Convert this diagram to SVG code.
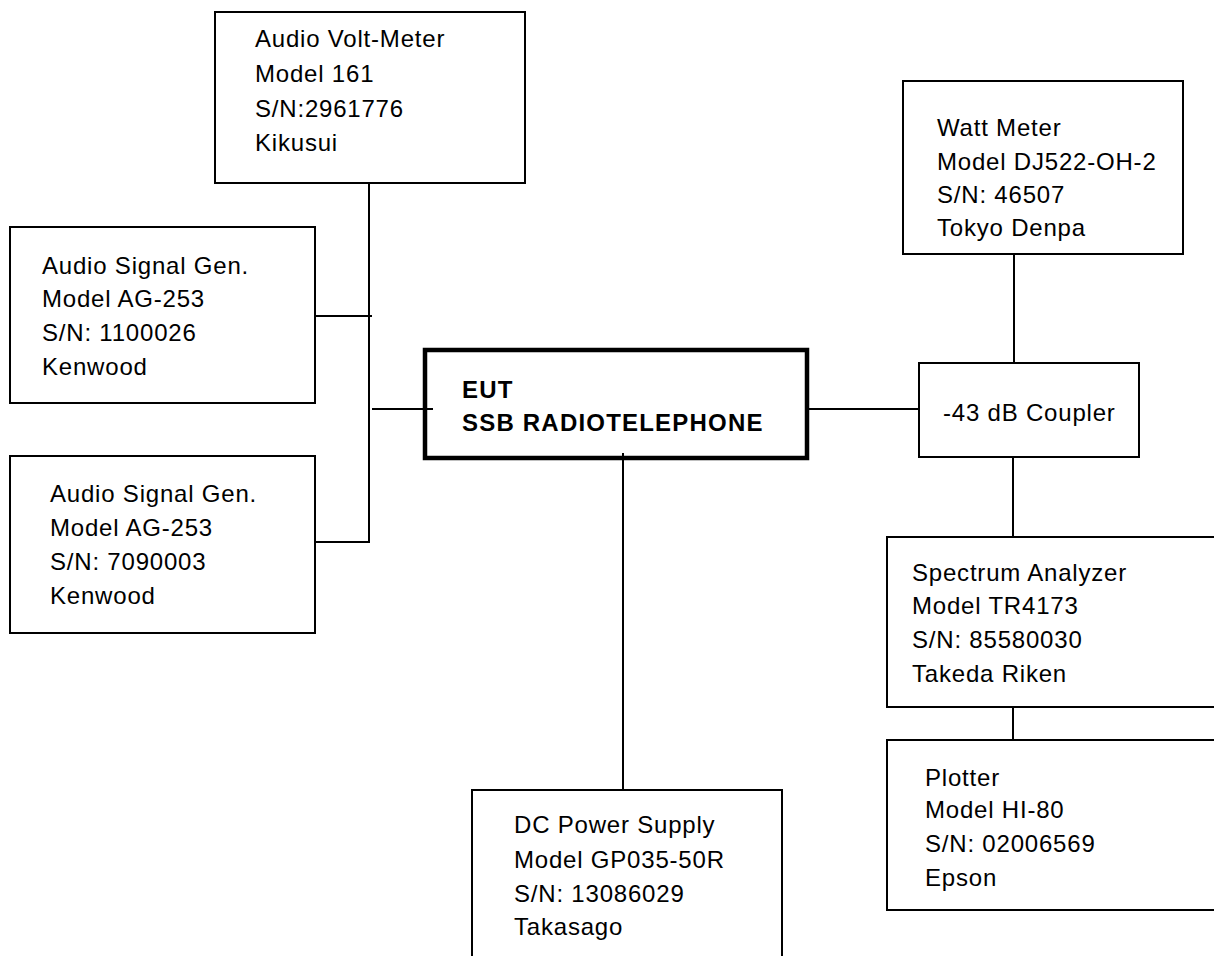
<svg xmlns="http://www.w3.org/2000/svg" width="1214" height="956" viewBox="0 0 1214 956">
<style>
.box{fill:#fff;stroke:#000;stroke-width:2}
.eut{fill:#fff;stroke:#000;stroke-width:4.5}
.t{font-family:"Liberation Sans",Arial,sans-serif;font-size:24px;letter-spacing:0.8px;fill:#000}
.b{font-family:"Liberation Sans",Arial,sans-serif;font-size:24px;font-weight:bold;letter-spacing:1.2px;fill:#000}
.ln{stroke:#000;stroke-width:2;fill:none}
</style>
<rect width="1214" height="956" fill="#fff"/>
<g id="connectors">
<line class="ln" x1="369" y1="183" x2="369" y2="543"/>
<line class="ln" x1="308" y1="316" x2="372" y2="316"/>
<polyline class="ln" points="315,542 369,542"/>
<line class="ln" x1="372" y1="409" x2="433" y2="409"/>
<line class="ln" x1="807" y1="409" x2="919" y2="409"/>
<line class="ln" x1="1014" y1="254" x2="1014" y2="363"/>
<line class="ln" x1="1013" y1="457" x2="1013" y2="537"/>
<line class="ln" x1="1013" y1="707" x2="1013" y2="740"/>
<line class="ln" x1="623" y1="453" x2="623" y2="790"/>
</g>
<g id="voltmeter">
<rect class="box" x="215" y="12" width="310" height="171"/>
<text class="t" x="255" y="47">Audio Volt-Meter</text>
<text class="t" x="255" y="82">Model 161</text>
<text class="t" x="255" y="117">S/N:2961776</text>
<text class="t" x="255" y="151">Kikusui</text>
</g>
<g id="siggen1">
<rect class="box" x="10" y="227" width="305" height="176"/>
<text class="t" x="42" y="274">Audio Signal Gen.</text>
<text class="t" x="42" y="307">Model AG-253</text>
<text class="t" x="42" y="341">S/N: 1100026</text>
<text class="t" x="42" y="375">Kenwood</text>
</g>
<g id="siggen2">
<rect class="box" x="10" y="456" width="305" height="177"/>
<text class="t" x="50" y="502">Audio Signal Gen.</text>
<text class="t" x="50" y="536">Model AG-253</text>
<text class="t" x="50" y="570">S/N: 7090003</text>
<text class="t" x="50" y="604">Kenwood</text>
</g>
<g id="eut">
<rect class="eut" x="425" y="350" width="382" height="108"/>
<line class="ln" x1="425" y1="409" x2="433" y2="409"/>
<line class="ln" x1="623" y1="453" x2="623" y2="458"/>
<text class="b" x="462" y="398">EUT</text>
<text class="b" x="462" y="431">SSB RADIOTELEPHONE</text>
</g>
<g id="wattmeter">
<rect class="box" x="903" y="81" width="280" height="173"/>
<text class="t" x="937" y="136">Watt Meter</text>
<text class="t" x="937" y="170">Model DJ522-OH-2</text>
<text class="t" x="937" y="203">S/N: 46507</text>
<text class="t" x="937" y="236">Tokyo Denpa</text>
</g>
<g id="coupler">
<rect class="box" x="919" y="363" width="220" height="94"/>
<text class="t" x="943" y="421">-43 dB Coupler</text>
</g>
<g id="spectrum">
<rect class="box" x="887" y="537" width="340" height="170"/>
<text class="t" x="912" y="581">Spectrum Analyzer</text>
<text class="t" x="912" y="614">Model TR4173</text>
<text class="t" x="912" y="648">S/N: 85580030</text>
<text class="t" x="912" y="682">Takeda Riken</text>
</g>
<g id="plotter">
<rect class="box" x="887" y="740" width="340" height="170"/>
<text class="t" x="925" y="786">Plotter</text>
<text class="t" x="925" y="818">Model HI-80</text>
<text class="t" x="925" y="852">S/N: 02006569</text>
<text class="t" x="925" y="886">Epson</text>
</g>
<g id="dcsupply">
<rect class="box" x="472" y="790" width="310" height="180"/>
<text class="t" x="514" y="833">DC Power Supply</text>
<text class="t" x="514" y="868">Model GP035-50R</text>
<text class="t" x="514" y="902">S/N: 13086029</text>
<text class="t" x="514" y="935">Takasago</text>
</g>
</svg>
